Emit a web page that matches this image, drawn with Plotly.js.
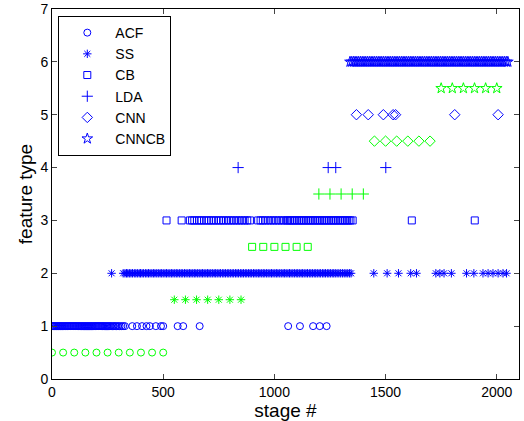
<!DOCTYPE html>
<html><head><meta charset="utf-8">
<script src="https://cdn.plot.ly/plotly-3.0.1.min.js"></script>
<style>html,body{margin:0;padding:0;background:#fff}#chart{width:524px;height:421px}</style>
</head><body><div id="chart"></div>
<script>
// ---- data (stage #, feature type) ----
const acfX = [0,4,8,12,17,21,26,30,35,39,44,48,53,58,62,67,71,76,81,85,90,95,99,104,108,113,118,122,127,132,136,141,146,150,155,160,164,169,174,178,183,188,193,197,202,207,211,216,221,226,230,235,240,245,250,255,260,266,272,278,284,290,297,304,312,320,328,361,382,405,425,440,467,490,500,565,590,664,1062,1115,1174,1204,1235];
const acfY = 1;
const ssX = [268,320,328,335,341,348,355,362,370,377,384,392,398,405,412,420,427,434,441,449,456,463,471,478,486,493,500,508,515,522,530,537,544,552,559,566,574,581,588,596,603,611,618,625,633,640,647,655,662,670,677,684,692,699,706,714,721,729,736,743,751,758,766,773,780,788,795,802,810,817,825,832,839,847,854,861,869,876,884,891,898,906,913,921,928,935,943,950,957,965,972,980,987,994,1002,1009,1016,1024,1031,1039,1046,1053,1061,1068,1075,1083,1090,1098,1105,1112,1120,1127,1134,1142,1149,1157,1164,1171,1179,1186,1193,1201,1208,1216,1223,1230,1238,1245,1252,1260,1267,1274,1282,1290,1298,1306,1314,1322,1330,1338,1345,1447,1507,1558,1613,1639,1726,1744,1763,1796,1864,1897,1938,1961,1983,2006,2028,2044];
const ssY = 2;
const cbX = [515,583,620,630,640,652,662,672,684,695,705,716,727,738,750,760,772,783,795,806,818,830,842,854,866,878,890,927,938,948,960,972,984,996,1008,1020,1032,1044,1056,1062,1070,1078,1086,1094,1102,1110,1118,1126,1134,1142,1150,1158,1166,1174,1182,1190,1198,1206,1214,1222,1230,1238,1246,1254,1262,1270,1278,1286,1294,1302,1310,1318,1326,1334,1342,1352,1618,1901];
const cbY = 3;
const ldaX = [837,1242,1276,1501];
const ldaY = 4;
const cnnX = [1369,1422,1490,1534,1545,1811,2006];
const cnnY = 5;
const cnncbX = [1340,1348,1356,1363,1371,1379,1387,1395,1403,1411,1419,1427,1435,1443,1451,1459,1467,1475,1483,1491,1499,1507,1515,1523,1531,1539,1547,1555,1563,1571,1579,1587,1595,1603,1611,1619,1627,1635,1643,1651,1659,1667,1675,1683,1691,1699,1707,1715,1723,1731,1739,1747,1755,1763,1771,1779,1787,1795,1803,1811,1819,1827,1835,1843,1851,1859,1867,1875,1883,1891,1899,1907,1915,1923,1931,1939,1947,1955,1963,1971,1979,1987,1995,2003,2011,2019,2027,2035,2043,2050];
const cnncbY = 6;
// green reference markers
const gAcfX = [0,50,100,150,200,250,300,350,400,450,500];
const gSsX = [550,600,650,700,750,800,850];
const gCbX = [900,950,1000,1050,1100,1150];
const gLdaX = [1200,1250,1300,1350,1400];
const gCnnX = [1450,1500,1550,1600,1650,1700];
const gCnncbX = [1750,1800,1850,1900,1950,2000];
const gY = [0.5,1.5,2.5,3.5,4.5,5.5];
const names = ['ACF','SS','CB','LDA','CNN','CNNCB'];
const yTicks = [0,1,2,3,4,5,6,7];
const xTicks = [0,500,1000,1500,2000];

const symbols = ['circle-open','asterisk-open','square-open','cross-thin-open','diamond-open','star-open'];
const sizes = [7,7,7,8,8,8];
const BLUE = '#0000ff', GREEN = '#00ff00';
const blueX = [acfX, ssX, cbX, ldaX, cnnX, cnncbX];
const blueY = [acfY, ssY, cbY, ldaY, cnnY, cnncbY];
const greenX = [gAcfX, gSsX, gCbX, gLdaX, gCnnX, gCnncbX];

const traces = [];
for (let i = 0; i < 6; i++) {
  traces.push({x: blueX[i], y: blueX[i].map(() => blueY[i]), type: 'scatter', mode: 'markers', name: names[i],
    marker: {symbol: symbols[i], size: sizes[i], color: BLUE, line: {color: BLUE, width: 1}}, showlegend: true});
}
for (let i = 0; i < 6; i++) {
  traces.push({x: greenX[i], y: greenX[i].map(() => gY[i]), type: 'scatter', mode: 'markers', name: names[i] + ' ',
    marker: {symbol: symbols[i], size: sizes[i], color: GREEN, line: {color: GREEN, width: 1}}, showlegend: false});
}

const font = {family: 'Liberation Sans, Arial, sans-serif', color: '#000'};
const layout = {
  width: 524, height: 421,
  margin: {l: 52, r: 5, t: 9, b: 42},
  paper_bgcolor: '#fff', plot_bgcolor: '#fff',
  showlegend: true,
  font: Object.assign({size: 14}, font),
  xaxis: {range: [0, 2100], tickvals: xTicks, ticktext: xTicks.map(String), ticks: 'inside', ticklen: 5,
    showline: true, mirror: 'ticks', linecolor: '#000', linewidth: 1, showgrid: false, zeroline: false,
    tickfont: Object.assign({size: 14}, font),
    title: {text: 'stage #', font: Object.assign({size: 19}, font), standoff: 2}},
  yaxis: {range: [0, 7], tickvals: yTicks, ticktext: yTicks.map(String), ticks: 'inside', ticklen: 5,
    showline: true, mirror: 'ticks', linecolor: '#000', linewidth: 1, showgrid: false, zeroline: false,
    tickfont: Object.assign({size: 14}, font),
    title: {text: 'feature type', font: Object.assign({size: 19}, font), standoff: 2}},
  legend: {x: 0.0135, y: 0.981, xanchor: 'left', yanchor: 'top', bgcolor: '#fff', bordercolor: '#000', borderwidth: 1,
    font: Object.assign({size: 14}, font), itemwidth: 46, tracegroupgap: 0},
};
Plotly.newPlot('chart', traces, layout, {displayModeBar: false, staticPlot: true});
</script></body></html>
